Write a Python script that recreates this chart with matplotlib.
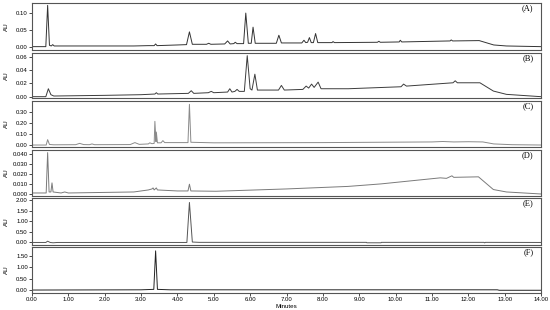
import matplotlib
matplotlib.use("Agg")
from matplotlib import pyplot as plt

# chromatogram traces (time in minutes, AU)
a_t = [0.0, 0.38, 0.43, 0.48, 0.53, 0.57, 0.61, 1.0, 2.0, 2.8, 3.2, 3.36, 3.40, 3.44, 4.0, 4.25, 4.33, 4.41,
       4.8, 4.86, 4.92, 5.3, 5.38, 5.45, 5.55, 5.59, 5.64, 5.82, 5.88, 5.95, 6.03, 6.08, 6.14, 6.72, 6.79, 6.86,
       7.42, 7.48, 7.53, 7.58, 7.63, 7.68, 7.74, 7.80, 7.86, 8.25, 8.28, 8.32, 9.5, 9.54, 9.58, 10.1, 10.13,
       10.17, 11.5, 11.53, 11.57, 12.3, 12.7, 13.05, 14.0]
a_v = [0.0, 0.0, 0.123, 0.004, 0.002, 0.006, 0.002, 0.002, 0.002, 0.002, 0.003, 0.003, 0.008, 0.003, 0.005,
       0.006, 0.044, 0.007, 0.007, 0.010, 0.007, 0.008, 0.017, 0.008, 0.009, 0.013, 0.009, 0.009, 0.100, 0.010,
       0.010, 0.058, 0.010, 0.010, 0.034, 0.011, 0.011, 0.019, 0.012, 0.013, 0.027, 0.012, 0.012, 0.039, 0.012,
       0.012, 0.015, 0.012, 0.013, 0.016, 0.013, 0.014, 0.019, 0.014, 0.017, 0.020, 0.017, 0.018, 0.005, 0.002,
       0.0]

b_t = [0.0, 0.38, 0.45, 0.52, 0.6, 2.0, 3.0, 3.38, 3.42, 3.46, 4.3, 4.38, 4.45, 4.85, 4.93, 5.0, 5.38, 5.44,
       5.5, 5.58, 5.64, 5.7, 5.84, 5.92, 6.0, 6.05, 6.13, 6.2, 6.78, 6.86, 6.94, 7.45, 7.54, 7.61, 7.69, 7.76,
       7.87, 7.95, 8.7, 10.15, 10.22, 10.3, 11.58, 11.64, 11.7, 12.32, 12.69, 13.05, 14.0]
b_v = [0.0, 0.0, 0.012, 0.003, 0.001, 0.002, 0.003, 0.004, 0.006, 0.004, 0.005, 0.009, 0.005, 0.006, 0.008,
       0.006, 0.007, 0.012, 0.007, 0.008, 0.011, 0.008, 0.008, 0.062, 0.012, 0.010, 0.034, 0.010, 0.010, 0.017,
       0.010, 0.011, 0.016, 0.013, 0.019, 0.014, 0.022, 0.012, 0.012, 0.015, 0.019, 0.016, 0.021, 0.024, 0.021,
       0.021, 0.0085, 0.0035, 0.0]

c_t = [0.0, 0.39, 0.43, 0.48, 0.6, 1.2, 1.31, 1.42, 1.58, 1.65, 1.72, 2.7, 2.83, 2.95, 3.2, 3.24, 3.3, 3.36,
       3.38, 3.41, 3.42, 3.45, 3.55, 3.6, 3.65, 4.29, 4.33, 4.37, 5.0, 8.0, 11.0, 11.3, 11.6, 12.0, 12.4, 12.7,
       13.2, 14.0]
c_v = [0.0, 0.0, 0.049, 0.005, 0.002, 0.003, 0.015, 0.004, 0.003, 0.010, 0.003, 0.004, 0.022, 0.006, 0.010,
       0.020, 0.012, 0.015, 0.215, 0.030, 0.118, 0.020, 0.020, 0.040, 0.022, 0.022, 0.370, 0.025, 0.020, 0.022,
       0.028, 0.032, 0.028, 0.030, 0.028, 0.010, 0.003, 0.0]

d_t = [0.0, 0.39, 0.43, 0.47, 0.52, 0.55, 0.58, 0.8, 0.9, 1.0, 2.8, 3.2, 3.3, 3.33, 3.36, 3.42, 3.45, 4.0,
       4.29, 4.33, 4.37, 5.06, 7.0, 8.69, 9.24, 9.6, 11.23, 11.4, 11.55, 11.6, 12.28, 12.69, 13.05, 14.0]
d_v = [0.001, 0.001, 0.041, 0.002, 0.002, 0.011, 0.002, 0.001, 0.002, 0.001, 0.002, 0.004, 0.005, 0.006,
       0.004, 0.006, 0.004, 0.003, 0.003, 0.0097, 0.003, 0.0027, 0.005, 0.0075, 0.009, 0.010, 0.016, 0.0155,
       0.018, 0.0165, 0.017, 0.0044, 0.002, 0.0]

e_t = [0.0, 0.38, 0.43, 0.5, 0.58, 0.7, 4.26, 4.33, 4.41, 4.6, 9.2, 9.21, 9.6, 9.61, 12.43, 12.45, 12.47, 14.0]
e_v = [0.0, 0.0, 0.06, 0.0, -0.015, 0.0, 0.0, 1.89, 0.02, 0.005, 0.005, -0.015, -0.015, 0.005, 0.005, -0.02,
       0.005, 0.0]

f_t = [0.0, 3.0, 3.35, 3.40, 3.45, 3.8, 12.8, 12.85, 14.0]
f_v = [0.0, 0.01, 0.03, 1.72, 0.03, 0.01, 0.01, -0.01, -0.01]

labels = ["(A)", "(B)", "(C)", "(D)", "(E)", "(F)"]
ylims = [(-0.01, 0.13), (-0.002, 0.066), (-0.018, 0.40), (-0.002, 0.0436), (-0.12, 2.1), (-0.13, 1.89)]
yticks = [[0.0, 0.05, 0.10], [0.0, 0.02, 0.04, 0.06], [0.0, 0.10, 0.20, 0.30],
          [0.0, 0.01, 0.02, 0.03, 0.04], [0.0, 0.5, 1.0, 1.5, 2.0], [0.0, 0.5, 1.0, 1.5]]
yfmt = ["%.2f", "%.2f", "%.2f", "%.3f", "%.2f", "%.2f"]
colors = ["#333333", "#3c3c3c", "#8a8a8a", "#7a7a7a", "#555555", "#222222"]
xticks = list(range(0, 15))

traces = [(a_t, a_v), (b_t, b_v), (c_t, c_v), (d_t, d_v), (e_t, e_v), (f_t, f_v)]
# panel pixel spans (top, bottom) in the 310 px figure
spans = [(3, 50), (53, 98), (101, 147), (150, 196), (198, 245), (247, 293)]
left_px, right_px = 32, 541

fig = plt.figure(figsize=(5.5, 3.1), dpi=100)
plt.rcParams['font.family'] = ['Liberation Sans', 'DejaVu Sans']

for i in range(6):
    top, bot = spans[i]
    ax = fig.add_axes([left_px / 550, 1 - bot / 310, (right_px - left_px) / 550, (bot - top) / 310])
    t, v = traces[i]
    ax.plot(t, v, color=colors[i], lw=0.7)
    ax.set_xlim(0, 14)
    ax.set_ylim(*ylims[i])
    ax.set_yticks(yticks[i])
    ax.set_yticklabels([yfmt[i] % y for y in yticks[i]], fontsize=4.3)
    ax.set_ylabel("AU", fontsize=4.5)
    ax.yaxis.set_label_coords(-0.045, 0.5)
    ax.tick_params(axis='y', length=2, width=0.5, pad=1)
    for s in ax.spines.values():
        s.set_color("#555555")
        s.set_linewidth(0.8)
    ax.text(0.985, 0.88, labels[i], transform=ax.transAxes, ha='right', va='center',
            fontsize=6, family='Liberation Serif')
    if i < 5:
        ax.set_xticks([])
    else:
        ax.set_xticks(xticks)
        ax.set_xticklabels(["%.2f" % x for x in xticks], fontsize=4.3)
        ax.tick_params(axis='x', length=2, width=0.5, pad=1)
        ax.set_xlabel("Minutes", fontsize=4.5, labelpad=1)

fig.savefig("out.png", dpi=100)
